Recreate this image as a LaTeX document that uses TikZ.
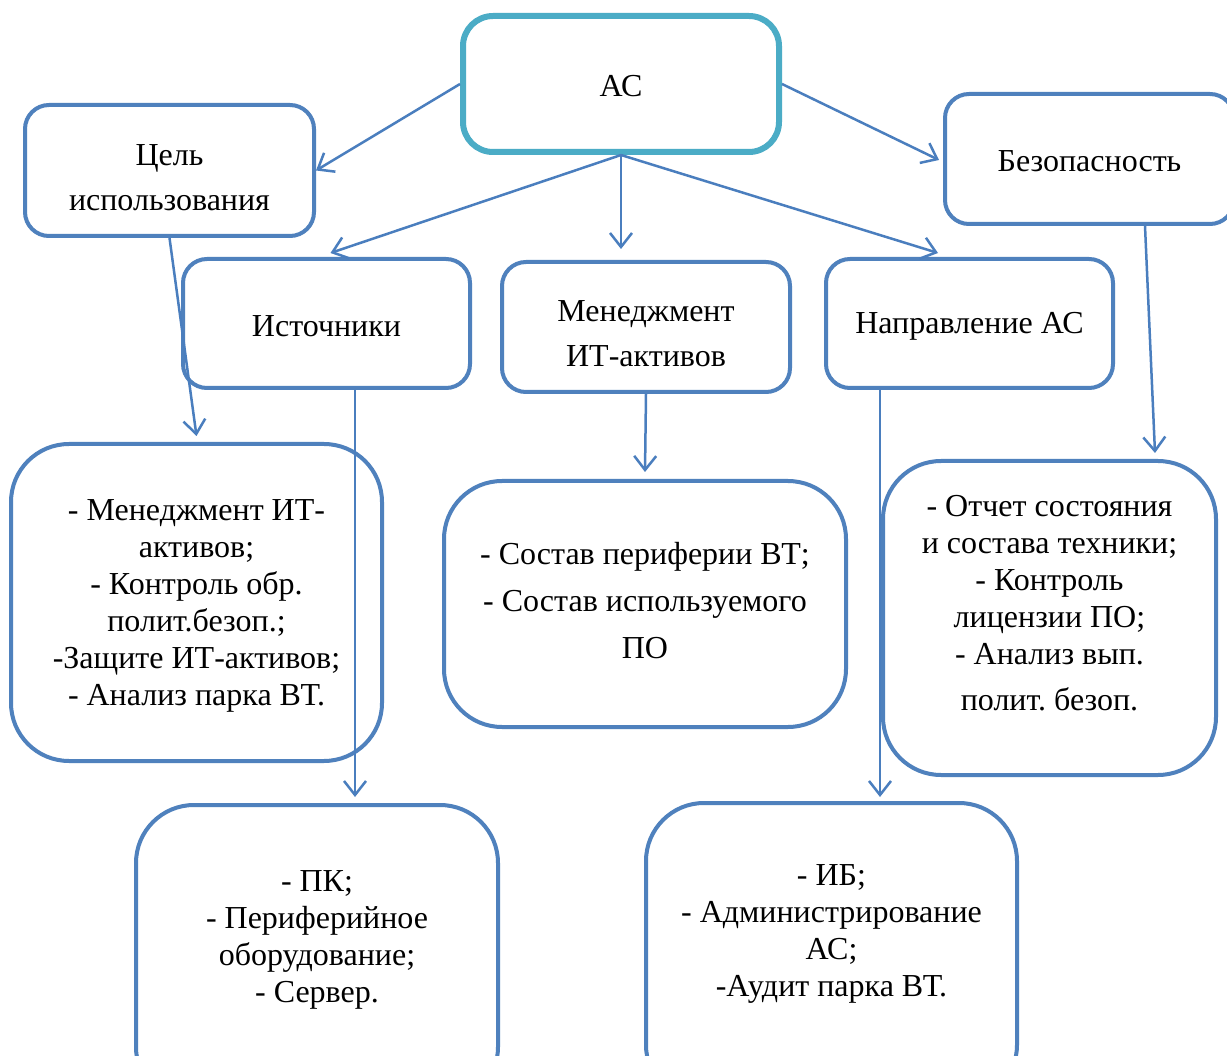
\documentclass[tikz,border=0pt]{standalone}
\usepackage{fontspec}
\setmainfont{Liberation Serif}
\usetikzlibrary{arrows.meta,calc}
\definecolor{boxblue}{RGB}{79,129,189}
\definecolor{topcyan}{RGB}{75,172,198}
\definecolor{arrblue}{RGB}{74,126,190}
\frenchspacing
\begin{document}
\begin{tikzpicture}[x=1pt,y=-1pt,
  txt/.style={font=\fontsize{32pt}{37pt}\selectfont, align=center, inner sep=0pt},
  smallbox/.style={draw=boxblue, line width=4pt, rounded corners=24pt,
    minimum width=288pt, minimum height=130pt},
  bigbox/.style={draw=boxblue, line width=4pt, rounded corners=58pt},
  arr/.style={draw=arrblue, line width=2.5pt,
    -{Straight Barb[length=14pt,width=22pt,line width=2.5pt]}}
]
\clip (0,0) rectangle (1227,1056);
\fill[white] (0,0) rectangle (1227,1056);

% top node
\node[draw=topcyan, line width=6pt, rounded corners=30pt,
  minimum width=316pt, minimum height=136pt] (ac) at (621,84) {};
\node[txt] (act) at (621,86) {АС};

% second level
\node[smallbox, minimum width=289pt, minimum height=131pt] (cel) at (169.5,170.5) {};
\node[txt] (celt) at (169.5,178) {Цель\\[8pt]использования};
\node[smallbox, minimum width=289pt] (bez) at (1089.5,159) {};
\node[txt] (bezt) at (1089.5,161) {Безопасность};
\node[smallbox, minimum width=287pt, minimum height=129pt] (ist) at (326.5,323.5) {};
\node[txt] (istt) at (326.5,326) {Источники};
\node[smallbox] (men) at (646,327) {};
\node[txt] (ment) at (646,334) {Менеджмент\\[8pt]ИТ-активов};
\node[smallbox, minimum width=287pt, minimum height=129pt] (nap) at (969.5,323.5) {};
\node[txt] (napt) at (969.5,326) {Направление АС};

% detail boxes
\node[bigbox, minimum width=371pt, minimum height=317pt] (lb) at (196.5,602.5) {};
\node[txt] (lbt) at (196.5,606) {- Менеджмент ИТ-\\активов;\\- Контроль обр.\\полит.безоп.;\\-Защите ИТ-активов;\\- Анализ парка ВТ.};

\node[bigbox, minimum width=402pt, minimum height=246pt] (mb) at (645,604) {};
\node[txt] (mbt) at (645,601) {- Состав периферии ВТ;\\[10pt]- Состав используемого\\[10pt]ПО};

\node[bigbox, minimum width=333pt, minimum height=314pt] (rb) at (1049.5,618) {};
\node[txt] (rbt) at (1049.5,603) {- Отчет состояния\\и состава техники;\\- Контроль\\лицензии ПО;\\- Анализ вып.\\[9pt]полит. безоп.};

\node[bigbox, minimum width=362pt, minimum height=300pt] (bl) at (317,955) {};
\node[txt] (blt) at (317,940) {- ПК;\\- Периферийное\\оборудование;\\- Сервер.};

\node[bigbox, minimum width=371pt, minimum height=300pt] (br) at (831.5,953) {};
\node[txt] (brt) at (831.5,934) {- ИБ;\\- Администрирование\\АС;\\-Аудит парка ВТ.};

% connectors
\draw[arr] (ac.west) -- (cel.east);
\draw[arr] (ac.east) -- ($(bez.west)+(-4,1)$);
\draw[arr] (ac.south) -- ($(ist.north)+(4,-4)$);
\draw[arr] (ac.south) -- ($(ac.south |- men.north)+(0,-11)$);
\draw[arr] (ac.south) -- ($(nap.north west)+(114,-4)$);

\draw[arr] (cel.south) -- ($(lb.north)+(0,-6)$);
\coordinate (istout) at ($(ist.south)+(28.5,0)$);
\draw[arr] (istout) -- ($(istout |- bl.north)+(0,-6)$);
\draw[arr] (men.south) -- ($(mb.north)+(0,-7)$);
\coordinate (napout) at ($(nap.south)+(-89.5,0)$);
\draw[arr] (napout) -- ($(napout |- br.north)+(0,-4)$);
\draw[arr] ($(bez.south)+(55.5,0)$) -- ($(rb.north)+(105.5,-6)$);
\end{tikzpicture}
\end{document}
